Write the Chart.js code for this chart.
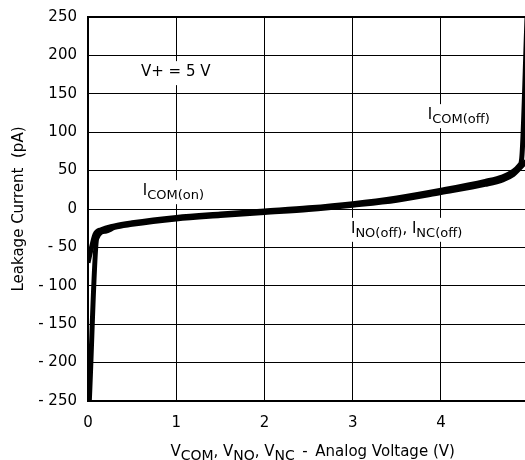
<!DOCTYPE html>
<html>
<head>
<meta charset="utf-8">
<script src="https://cdn.jsdelivr.net/npm/chart.js@4.4.1/dist/chart.umd.min.js"></script>
<style>
html, body { margin: 0; padding: 0; background: #fff; overflow: hidden; }
#wrap { position: relative; width: 547px; height: 460px; }
canvas { display: block; }
</style>
</head>
<body>
<div id="wrap"><canvas id="chart" width="547" height="460"></canvas></div>
<script>
// I_COM(on) trace that turns into I_COM(off) near 5 V
const comVolts = [0, 0.04, 0.08, 0.15, 0.3, 0.5, 1, 1.5, 2, 2.5, 3, 3.5, 4, 4.5, 4.7, 4.82, 4.89, 4.915, 4.975];
const comLeak  = [-70, -50, -33, -27, -22, -18, -11, -6.5, -2.5, 1.5, 7, 14.5, 24.5, 36, 42, 49, 57, 66, 250];

// I_NO(off), I_NC(off) trace
const noVolts = [0.015, 0.1, 0.2, 0.3, 0.5, 1, 1.5, 2, 2.5, 3, 3.5, 4, 4.5, 4.7, 4.82, 4.9, 5];
const noLeak  = [-250, -38, -29, -24, -20, -13, -8.5, -4.5, -0.5, 5, 11.5, 21.5, 32, 38, 45, 54, 66];

const xTicks = [0, 1, 2, 3, 4, 5];
const yTicks = [250, 200, 150, 100, 50, 0, -50, -100, -150, -200, -250];
const yTickLabels = ['250', '200', '150', '100', '50', '0', '- 50', '- 100', '- 150', '- 200', '- 250'];

const FONT = 'DejaVu Sans';
const MAIN = 15, SUB = 13;

const toPoints = (xs, ys) => xs.map((x, i) => ({x: x, y: ys[i]}));

// text on the plot, [text, subscript?] pieces, anchored at left / baseline
const notes = [
    {x: 0.6, y: 173, parts: [['V+ = 5 V', false]]},
    {x: 0.62, y: 18, parts: [['I', false], ['COM(on)', true]]},
    {x: 3.85, y: 117, parts: [['I', false], ['COM(off)', true]]},
    {x: 2.98, y: -31, parts: [['I', false], ['NO(off)', true], [', I', false], ['NC(off)', true]]}
];
const xTitle = [['V', false], ['COM', true], [', V', false], ['NO', true], [', V', false], ['NC', true], ['\u2002-\u2002Analog Voltage (V)', false]];

const partsWidth = function(ctx, parts, sub) {
    let w = 0;
    parts.forEach(p => {
        ctx.font = (p[1] ? sub : MAIN) + 'px "' + FONT + '"';
        w += ctx.measureText(p[0]).width;
    });
    return w;
};

const drawParts = function(ctx, parts, x, y, sub) {
    ctx.textBaseline = 'alphabetic';
    ctx.textAlign = 'left';
    ctx.fillStyle = '#000';
    parts.forEach(p => {
        ctx.font = (p[1] ? sub : MAIN) + 'px "' + FONT + '"';
        ctx.fillText(p[0], x, p[1] ? y + 4 : y);
        x += ctx.measureText(p[0]).width;
    });
};

const textPlugin = {
    id: 'texts',
    beforeDatasetsDraw(chart) {
        const ctx = chart.ctx;
        const xs = chart.scales.x, ys = chart.scales.y;
        ctx.save();
        notes.forEach(n => {
            const px = xs.getPixelForValue(n.x);
            const py = ys.getPixelForValue(n.y);
            const w = partsWidth(ctx, n.parts, SUB);
            ctx.fillStyle = '#fff';
            ctx.fillRect(px - 4, py - 15, w + 8, 24);
            drawParts(ctx, n.parts, px, py, SUB);
        });
        ctx.restore();
    },
    afterDraw(chart) {
        const ctx = chart.ctx;
        const area = chart.chartArea;
        ctx.save();
        const w = partsWidth(ctx, xTitle, 14);
        drawParts(ctx, xTitle, (area.left + area.right) / 2 - w / 2 + 4, 456, 14);
        ctx.restore();
    }
};

const gridColor = '#000';

new Chart(document.getElementById('chart'), {
    type: 'line',
    data: {
        datasets: [{
            data: toPoints(comVolts, comLeak),
            borderColor: '#000',
            borderWidth: 5,
            pointRadius: 0,
            cubicInterpolationMode: 'monotone',
            tension: 0.3,
            borderJoinStyle: 'round'
        }, {
            data: toPoints(noVolts, noLeak),
            borderColor: '#000',
            borderWidth: 5,
            pointRadius: 0,
            cubicInterpolationMode: 'monotone',
            tension: 0.3,
            borderJoinStyle: 'round'
        }]
    },
    options: {
        responsive: false,
        animation: false,
        layout: {padding: {left: 0, top: 0, right: 0, bottom: 0}},
        plugins: {legend: {display: false}, tooltip: {enabled: false}},
        scales: {
            x: {
                type: 'linear',
                min: 0,
                max: 5,
                afterBuildTicks: axis => { axis.ticks = xTicks.map(v => ({value: v})); },
                afterFit: axis => { axis.height = 59; },
                grid: {color: gridColor, lineWidth: 1, drawTicks: false},
                border: {display: true, color: '#000', width: 2},
                ticks: {color: '#000', font: {family: FONT, size: MAIN}, padding: 13, maxRotation: 0}
            },
            y: {
                type: 'linear',
                min: -250,
                max: 250,
                afterBuildTicks: axis => { axis.ticks = yTicks.map(v => ({value: v})); },
                afterFit: axis => { axis.width = 88; },
                grid: {
                    color: gridColor,
                    lineWidth: c => (c.tick && c.tick.value === 250 ? 2 : 1),
                    drawTicks: false
                },
                border: {display: true, color: '#000', width: 2},
                ticks: {
                    color: '#000',
                    font: {family: FONT, size: MAIN, lineHeight: 0.8},
                    padding: 11,
                    callback: v => yTickLabels[yTicks.indexOf(v)]
                },
                title: {
                    display: true,
                    text: 'Leakage Current  (pA)',
                    color: '#000',
                    font: {family: FONT, size: MAIN},
                    padding: {top: 10, bottom: 0}
                }
            }
        }
    },
    plugins: [textPlugin]
});
</script>
</body>
</html>
